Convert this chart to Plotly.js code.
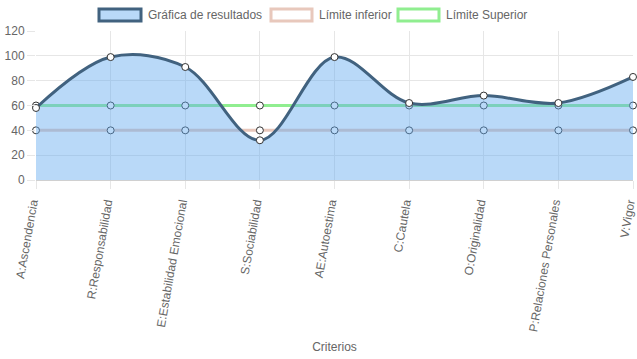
<!DOCTYPE html>
<html><head><meta charset="utf-8">
<script src="https://cdn.plot.ly/plotly-3.0.1.min.js"></script>
<style>html,body{margin:0;padding:0;background:#fff}#c{width:637px;height:359px}</style>
</head><body><div id="c"></div>
<script>
const categories = ["A:Ascendencia","R:Responsabilidad","E:Estabilidad Emocional","S:Sociabilidad","AE:Autoestima","C:Cautela","O:Originalidad","P:Relaciones Personales","V:Vigor"];
const resultados = [58, 99, 91, 32, 99, 62, 68, 62, 83];
const limiteInferior = [40, 40, 40, 40, 40, 40, 40, 40, 40];
const limiteSuperior = [60, 60, 60, 60, 60, 60, 60, 60, 60];
const seriesNames = ["Gráfica de resultados", "Límite inferior", "Límite Superior"];
const yTicks = [0, 20, 40, 60, 80, 100, 120];

const font = {family: "Liberation Sans, Arial, sans-serif", size: 12, color: "#666"};
const mk = {size: 7, color: "#fff", line: {color: "#333", width: 1}};

const traces = [
  {x: categories, y: limiteInferior, name: seriesNames[1], mode: "lines+markers", type: "scatter",
   line: {color: "rgb(232,200,188)", width: 3}, marker: mk, cliponaxis: false, showlegend: false, hoverinfo: "skip"},
  {x: categories, y: limiteSuperior, name: seriesNames[2], mode: "lines+markers", type: "scatter",
   line: {color: "rgb(144,238,144)", width: 3}, marker: mk, cliponaxis: false, showlegend: false, hoverinfo: "skip"},
  {x: categories, y: resultados, name: seriesNames[0], mode: "lines+markers", type: "scatter",
   fill: "tozeroy", fillcolor: "rgba(100,170,240,0.45)",
   line: {color: "#41627f", width: 3, shape: "spline", smoothing: 1}, marker: mk, cliponaxis: false, showlegend: false, hoverinfo: "skip"}
];

// custom Chart.js-style legend
const legendBoxes = [
  {x0: 99, x1: 141, fill: "rgba(100,170,240,0.45)", line: "#41627f", tx: 146},
  {x0: 271, x1: 312, fill: "rgba(255,255,255,0)", line: "rgb(232,200,188)", tx: 317},
  {x0: 398, x1: 439, fill: "rgba(255,255,255,0)", line: "rgb(144,238,144)", tx: 444}
];
const W = 637, H = 359, L = 36, R = 4, T = 31, B = 179;
const px = v => (v - L) / (W - L - R);
const py = v => 1 - (v - T) / (H - T - B);
const shapes = legendBoxes.map(b => ({type: "rect", xref: "paper", yref: "paper",
  x0: px(b.x0), x1: px(b.x1), y0: py(9), y1: py(21), fillcolor: b.fill, line: {color: b.line, width: 3}}));
const annotations = legendBoxes.map((b, i) => ({xref: "paper", yref: "paper", x: px(b.tx), y: py(15),
  xanchor: "left", yanchor: "middle", text: seriesNames[i], showarrow: false, font: font}));

const layout = {
  width: W, height: H,
  margin: {l: L, r: R, t: T, b: B},
  paper_bgcolor: "#fff", plot_bgcolor: "#fff",
  showlegend: false, hovermode: false,
  font: font,
  xaxis: {type: "category", range: [0, categories.length - 1], tickangle: -80,
    showgrid: true, gridcolor: "#e6e6e6", ticks: "outside", ticklen: 8, tickcolor: "#e6e6e6",
    ticklabelshift: -4, ticklabelstandoff: 2,
    showline: false, zeroline: false, tickfont: font,
    title: {text: "Criterios", font: font, standoff: 10}},
  yaxis: {range: [0, 120], tickvals: yTicks, ticktext: yTicks.map(String),
    showgrid: true, gridcolor: "#e6e6e6", ticks: "outside", ticklen: 8, tickcolor: "#e6e6e6",
    zeroline: true, zerolinecolor: "#d0d0d0", zerolinewidth: 1, showline: false, tickfont: font},
  shapes: shapes, annotations: annotations
};
Plotly.newPlot("c", traces, layout, {displayModeBar: false, staticPlot: true});
</script></body></html>
